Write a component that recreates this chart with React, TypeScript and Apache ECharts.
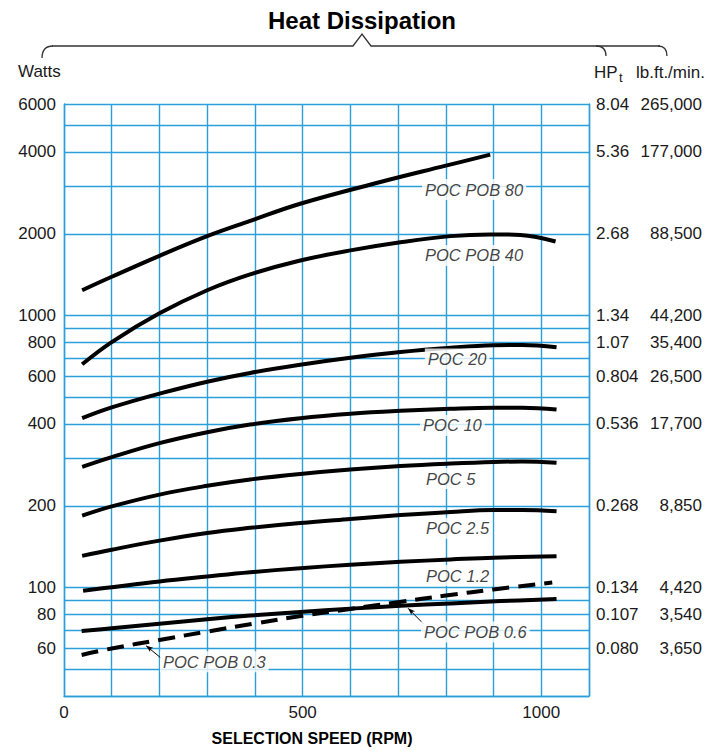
import React, { useEffect, useRef } from "react";
import * as echarts from "echarts";

const GRID_COLOR = "#2a9fd9";
const TEXT_COLOR = "#1a1a1a";
const SANS = "'Liberation Sans', Arial, sans-serif";

// Axis ticks / labels
const wattTicks = [6000, 4000, 2000, 1000, 800, 600, 400, 200, 100, 80, 60];
const hpTicks = ["8.04", "5.36", "2.68", "1.34", "1.07", "0.804", "0.536", "0.268", "0.134", "0.107", "0.080"];
const lbftTicks = ["265,000", "177,000", "88,500", "44,200", "35,400", "26,500", "17,700", "8,850", "4,420", "3,540", "3,650"];
const wattGridLines = [6000, 5000, 4000, 3000, 2000, 1000, 900, 800, 700, 600, 500, 400, 300, 200, 100, 90, 80, 70, 60, 50, 40];
const speedLabelTicks = [0, 500, 1000];

// Curves (RPM vs Watts)
const pob80Rpm = [38, 100, 200, 300, 390, 495, 663, 800, 893];
const pob80Watts = [1240, 1390, 1660, 1960, 2230, 2580, 3100, 3560, 3910];

const pob40Rpm = [38, 100, 200, 300, 390, 495, 600, 705, 810, 893, 956, 1030];
const pob40Watts = [663, 800, 1020, 1240, 1418, 1595, 1738, 1862, 1961, 1990, 1980, 1873];

const poc20Rpm = [38, 100, 200, 300, 390, 495, 600, 705, 810, 900, 960, 1032];
const poc20Watts = [420, 460, 517, 572, 616, 660, 700, 735, 762, 778, 780, 766];

const poc10Rpm = [38, 100, 200, 300, 390, 495, 600, 705, 810, 900, 960, 1032];
const poc10Watts = [278, 302, 340, 373, 398, 420, 436, 447, 455, 459, 459, 452];

const poc5Rpm = [38, 100, 200, 300, 390, 495, 600, 705, 810, 900, 960, 1032];
const poc5Watts = [184, 199, 220, 237, 250, 262, 272, 280, 286, 290, 291, 288];

const poc25Rpm = [38, 100, 200, 300, 390, 495, 600, 705, 810, 900, 960, 1032];
const poc25Watts = [131, 138, 149, 159, 166, 173, 179, 185, 190, 193, 193, 191];

const poc12Rpm = [40, 100, 200, 300, 390, 495, 600, 705, 810, 900, 1032];
const poc12Watts = [97.5, 100.5, 105.5, 110, 114, 118, 121.5, 124.5, 127, 129, 130.5];

const pob06Rpm = [37, 100, 200, 300, 390, 495, 600, 705, 810, 915, 1032];
const pob06Watts = [69.3, 71, 73.8, 76.6, 79, 81.5, 83.8, 85.8, 87.6, 89.3, 90.9];

const pob03Rpm = [37, 100, 200, 300, 400, 500, 600, 700, 800, 900, 1023];
const pob03Watts = [56.6, 59.8, 64.3, 69, 73.9, 78.9, 83.6, 88.5, 93.6, 98.6, 104.5];

// Curve labels (anchored at their left edge)
const labelNames = ["POC POB 80", "POC POB 40", "POC 20", "POC 10", "POC 5", "POC 2.5", "POC 1.2", "POC POB 0.6", "POC POB 0.3"];
const labelRpm = [749, 749, 755, 745, 751, 751, 751, 747, 200];
const labelWatts = [2909, 1666, 693, 395, 252, 165.5, 110.8, 68.7, 53.5];

// Leader lines
const leader06Rpm = [721, 753];
const leader06Watts = [84, 73.7];
const leader03Rpm = [172, 203];
const leader03Watts = [61.2, 55.2];

const curves = [
  { name: "POC POB 80", rpm: pob80Rpm, watts: pob80Watts, dashed: false },
  { name: "POC POB 40", rpm: pob40Rpm, watts: pob40Watts, dashed: false },
  { name: "POC 20", rpm: poc20Rpm, watts: poc20Watts, dashed: false },
  { name: "POC 10", rpm: poc10Rpm, watts: poc10Watts, dashed: false },
  { name: "POC 5", rpm: poc5Rpm, watts: poc5Watts, dashed: false },
  { name: "POC 2.5", rpm: poc25Rpm, watts: poc25Watts, dashed: false },
  { name: "POC 1.2", rpm: poc12Rpm, watts: poc12Watts, dashed: false },
  { name: "POC POB 0.6", rpm: pob06Rpm, watts: pob06Watts, dashed: false },
  { name: "POC POB 0.3", rpm: pob03Rpm, watts: pob03Watts, dashed: true },
];

const tickIndex = (v: number) => wattTicks.findIndex((t) => Math.abs(v - t) / t < 0.01);

function buildOption(): any {
  const yBase = {
    type: "log",
    logBase: 10,
    min: 40,
    max: 6000,
    splitLine: { show: false },
    axisTick: { show: false },
  };
  const series: any[] = [];
  series.push({
    type: "line",
    data: [],
    silent: true,
    markLine: {
      silent: true,
      z: 1,
      symbol: ["none", "none"],
      label: { show: false },
      lineStyle: { color: GRID_COLOR, width: 1.4, type: "solid" },
      emphasis: { disabled: true },
      data: wattGridLines.map((v) => ({ yAxis: v })),
    },
  });
  curves.forEach((c) => {
    series.push({
      type: "line",
      name: c.name,
      data: c.rpm.map((r, i) => [r, c.watts[i]]),
      smooth: 0.4,
      symbol: "none",
      showSymbol: false,
      silent: true,
      z: 3,
      lineStyle: { color: "#000", width: 4, type: c.dashed ? [17, 9] : "solid", cap: "butt" },
    });
  });
  const leaders = [
    { rpm: leader06Rpm, watts: leader06Watts, rot: 47 },
    { rpm: leader03Rpm, watts: leader03Watts, rot: 53 },
  ];
  leaders.forEach((l) => {
    series.push({
      type: "line",
      silent: true,
      z: 3,
      showSymbol: true,
      data: [
        { value: [l.rpm[0], l.watts[0]], symbol: "arrow", symbolSize: [4, 7], symbolRotate: l.rot },
        { value: [l.rpm[1], l.watts[1]], symbol: "none" },
      ],
      itemStyle: { color: "#000" },
      lineStyle: { color: "#000", width: 1 },
    });
  });
  series.push({
    type: "scatter",
    silent: true,
    z: 4,
    symbolSize: 1,
    itemStyle: { color: "rgba(0,0,0,0)" },
    data: labelNames.map((n, i) => ({ name: n, value: [labelRpm[i], labelWatts[i]] })),
    label: {
      show: true,
      position: "right",
      distance: 0,
      formatter: "{b}",
      color: "#111",
      fontFamily: SANS,
      fontStyle: "italic",
      fontSize: 16.5,
      backgroundColor: "#fff",
      padding: [2, 3],
    },
  });

  return {
    animation: false,
    backgroundColor: "#fff",
    grid: { left: 64, top: 104, right: 134, bottom: 55, outerBoundsMode: "none" },
    xAxis: {
      type: "value",
      min: 0,
      max: 1100,
      interval: 100,
      axisLine: { show: true, lineStyle: { color: GRID_COLOR, width: 1.4 } },
      axisTick: { show: false },
      splitLine: { show: true, lineStyle: { color: GRID_COLOR, width: 1.4 } },
      axisLabel: {
        margin: 8,
        fontSize: 17,
        fontFamily: SANS,
        color: TEXT_COLOR,
        formatter: (v: number) => (speedLabelTicks.includes(v) ? String(v) : ""),
      },
    },
    yAxis: [
      {
        ...yBase,
        position: "left",
        axisLine: { show: true, lineStyle: { color: GRID_COLOR, width: 1.4 } },
        axisLabel: {
          customValues: wattTicks,
          margin: 8,
          fontSize: 17,
          fontFamily: SANS,
          color: TEXT_COLOR,
          formatter: (v: number) => {
            const i = tickIndex(v);
            return i < 0 ? "" : String(wattTicks[i]);
          },
        },
      },
      {
        ...yBase,
        position: "right",
        axisLine: { show: true, lineStyle: { color: GRID_COLOR, width: 1.4 } },
        axisLabel: {
          customValues: wattTicks,
          margin: 7,
          align: "left",
          fontSize: 17,
          fontFamily: SANS,
          color: TEXT_COLOR,
          formatter: (v: number) => {
            const i = tickIndex(v);
            return i < 0 ? "" : hpTicks[i];
          },
        },
      },
      {
        ...yBase,
        position: "right",
        axisLine: { show: false },
        axisLabel: {
          customValues: wattTicks,
          margin: 113,
          align: "right",
          fontSize: 17,
          fontFamily: SANS,
          color: TEXT_COLOR,
          formatter: (v: number) => {
            const i = tickIndex(v);
            return i < 0 ? "" : lbftTicks[i];
          },
        },
      },
    ],
    graphic: [
      {
        type: "text",
        x: 362,
        y: 20,
        style: {
          text: "Heat Dissipation",
          fontFamily: SANS,
          fontWeight: "bold",
          fontSize: 24,
          fill: "#000",
          align: "center",
          verticalAlign: "middle",
        },
      },
      {
        type: "polyline",
        shape: { points: [[52, 46], [353, 46], [362, 34], [371, 46], [660, 46]] },
        style: { stroke: "#333", lineWidth: 1.3, fill: "none" },
      },
      {
        type: "bezierCurve",
        shape: { x1: 42, y1: 58, cpx1: 42, cpy1: 46, x2: 53, y2: 46 },
        style: { stroke: "#333", lineWidth: 1.3, fill: "none" },
      },
      {
        type: "bezierCurve",
        shape: { x1: 596, y1: 46, cpx1: 606, cpy1: 46, x2: 606, y2: 56 },
        style: { stroke: "#333", lineWidth: 1.3, fill: "none" },
      },
      {
        type: "bezierCurve",
        shape: { x1: 658, y1: 46, cpx1: 667, cpy1: 46, x2: 667, y2: 56 },
        style: { stroke: "#333", lineWidth: 1.3, fill: "none" },
      },
      {
        type: "text",
        x: 18,
        y: 71,
        style: { text: "Watts", fontFamily: SANS, fontSize: 17, fill: TEXT_COLOR, verticalAlign: "middle" },
      },
      {
        type: "text",
        x: 594,
        y: 72,
        style: { text: "HP", fontFamily: SANS, fontSize: 17, fill: TEXT_COLOR, verticalAlign: "middle" },
      },
      {
        type: "text",
        x: 619,
        y: 77,
        style: { text: "t", fontFamily: SANS, fontSize: 13, fill: TEXT_COLOR, verticalAlign: "middle" },
      },
      {
        type: "text",
        x: 636,
        y: 72,
        style: { text: "lb.ft./min.", fontFamily: SANS, fontSize: 17, fill: TEXT_COLOR, verticalAlign: "middle" },
      },
      {
        type: "text",
        x: 312,
        y: 738,
        style: {
          text: "SELECTION SPEED (RPM)",
          fontFamily: SANS,
          fontWeight: "bold",
          fontSize: 16,
          fill: "#000",
          align: "center",
          verticalAlign: "middle",
        },
      },
    ],
    series,
  };
}

export default function App() {
  const ref = useRef<HTMLDivElement>(null);
  useEffect(() => {
    if (!ref.current) return;
    const chart = echarts.init(ref.current, undefined, { renderer: "svg" });
    chart.setOption(buildOption());
    return () => chart.dispose();
  }, []);
  return (
    <div
      ref={ref}
      style={{ position: "absolute", left: 0, top: 0, width: 723, height: 751, background: "#fff" }}
    />
  );
}
